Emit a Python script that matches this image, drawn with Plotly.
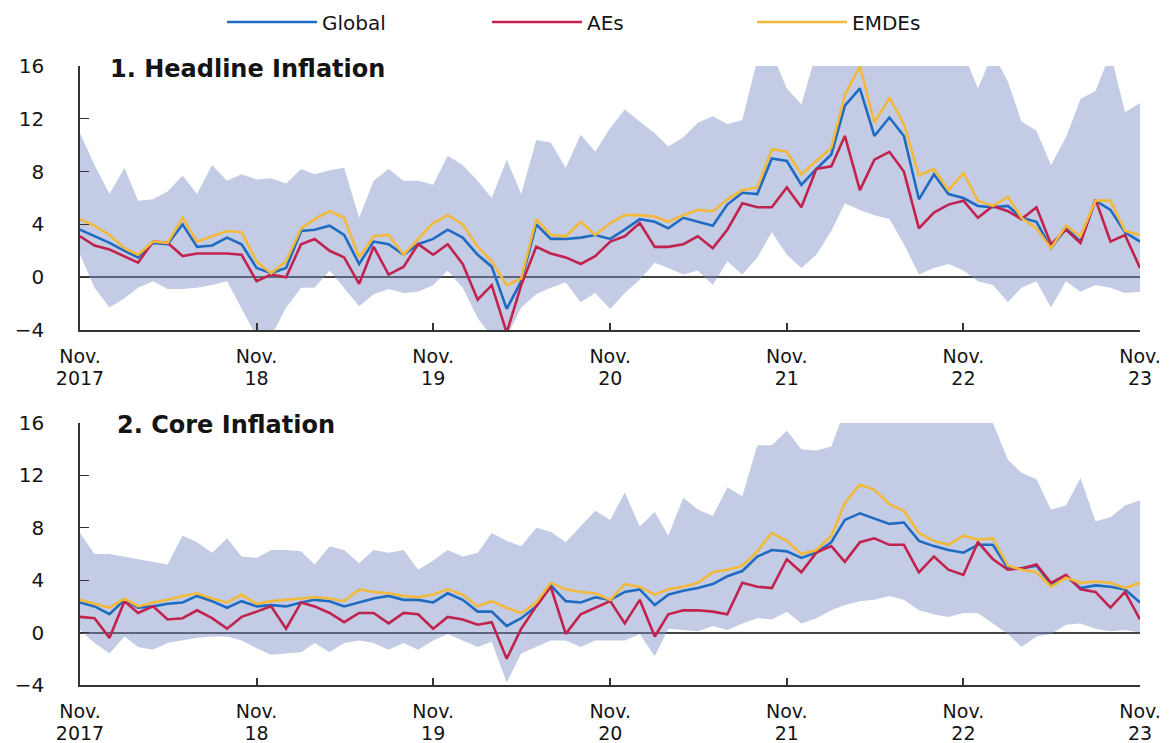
import pandas as pd
import plotly.graph_objects as go

months = pd.date_range("2017-11-01", periods=73, freq="MS")
tick_dates = ["2017-11-01", "2018-11-01", "2019-11-01", "2020-11-01",
              "2021-11-01", "2022-11-01", "2023-11-01"]
tick_month = "Nov."
tick_years = ["2017", "18", "19", "20", "21", "22", "23"]

# ---- Panel 1: Headline inflation ----
head_global = [3.6, 3.1, 2.6, 2.0, 1.5, 2.6, 2.5, 4.0, 2.3, 2.4, 3.0, 2.5, 0.7, 0.3, 0.7, 3.5, 3.6, 3.9, 3.2, 1.0, 2.7, 2.5, 1.7, 2.5, 2.9,
               3.6, 3.0, 1.7, 0.8, -2.4, -0.3, 4.0, 2.9, 2.9, 3.0, 3.2, 2.9, 3.6, 4.4, 4.2, 3.7, 4.5, 4.2, 3.9, 5.5, 6.4, 6.3, 9.0, 8.8,
               7.0, 8.2, 9.3, 13.0, 14.3, 10.7, 12.1, 10.7, 5.9, 7.8, 6.3, 6.0, 5.4, 5.3, 5.4, 4.5, 4.2, 2.2, 3.7, 2.7, 5.8, 5.1, 3.4, 2.7]
head_aes = [3.1, 2.4, 2.1, 1.6, 1.1, 2.7, 2.6, 1.6, 1.8, 1.8, 1.8, 1.7, -0.3, 0.2, 0.0, 2.5, 2.9, 2.0, 1.5, -0.5, 2.3, 0.2, 0.8, 2.5, 1.7,
            2.5, 1.0, -1.7, -0.6, -4.2, -0.6, 2.3, 1.8, 1.5, 1.0, 1.6, 2.7, 3.1, 4.1, 2.3, 2.3, 2.5, 3.1, 2.2, 3.6, 5.6, 5.3, 5.3, 6.8,
            5.3, 8.2, 8.4, 10.7, 6.6, 8.9, 9.5, 8.0, 3.7, 4.9, 5.5, 5.8, 4.5, 5.4, 5.0, 4.4, 5.3, 2.5, 3.6, 2.6, 5.9, 2.7, 3.2, 0.7]
head_emdes = [4.4, 3.9, 3.2, 2.2, 1.7, 2.7, 2.6, 4.5, 2.7, 3.1, 3.5, 3.4, 1.2, 0.3, 1.2, 3.7, 4.4, 5.0, 4.5, 1.5, 3.1, 3.2, 1.7, 2.9, 4.1,
              4.7, 4.0, 2.3, 1.2, -0.6, -0.1, 4.4, 3.2, 3.1, 4.2, 3.2, 4.1, 4.7, 4.7, 4.6, 4.2, 4.7, 5.1, 5.0, 5.9, 6.6, 6.8, 9.7, 9.5,
              7.8, 8.8, 9.8, 13.8, 16.0, 11.7, 13.6, 11.6, 7.7, 8.2, 6.6, 7.9, 5.8, 5.4, 6.1, 4.5, 3.7, 2.2, 3.9, 3.1, 5.8, 5.8, 3.5, 3.2]
head_upper = [10.9, 8.5, 6.3, 8.3, 5.8, 5.9, 6.5, 7.7, 6.3, 8.5, 7.3, 7.8, 7.4, 7.5, 7.1, 8.2, 7.8, 8.1, 8.3, 4.5, 7.3, 8.2, 7.3, 7.3, 7.0,
              9.2, 8.5, 7.3, 6.0, 8.9, 6.3, 10.4, 10.2, 8.3, 10.8, 9.5, 11.3, 12.7, 11.8, 10.9, 9.9, 10.6, 11.7, 12.2, 11.6, 11.9, 16.5, 17.0, 14.3,
              13.1, 17.0, 17.0, 17.0, 17.0, 17.0, 17.0, 17.0, 17.0, 17.0, 17.0, 17.0, 14.3, 17.0, 14.8, 11.8, 11.1, 8.5, 10.6, 13.5, 14.1, 17.0, 12.5, 13.2]
head_lower = [1.7, -0.8, -2.3, -1.6, -0.8, -0.3, -0.9, -0.9, -0.8, -0.6, -0.3, -2.3, -4.5, -4.5, -2.3, -0.8, -0.8, 0.5, -0.8, -2.2, -1.3, -0.9, -1.2, -1.1, -0.6,
              0.5, -0.8, -3.1, -4.5, -4.5, -2.3, -1.3, -0.8, -0.4, -1.9, -1.2, -2.4, -1.2, -0.2, 1.1, 0.7, 0.2, 0.5, -0.6, 1.2, 0.2, 1.5, 3.4, 1.7,
              0.7, 1.7, 3.5, 5.6, 5.1, 4.7, 4.4, 2.5, 0.2, 0.7, 1.0, 0.5, -0.3, -0.6, -1.9, -0.8, -0.3, -2.3, -0.3, -1.1, -0.6, -0.8, -1.2, -1.1]

# ---- Panel 2: Core inflation ----
core_global = [2.3, 2.0, 1.4, 2.5, 1.9, 2.0, 2.2, 2.3, 2.8, 2.4, 1.9, 2.4, 2.0, 2.1, 2.0, 2.3, 2.5, 2.4, 2.0, 2.3, 2.6, 2.8, 2.5, 2.5, 2.3,
               3.0, 2.5, 1.6, 1.6, 0.5, 1.1, 2.0, 3.6, 2.4, 2.3, 2.7, 2.5, 3.1, 3.3, 2.1, 2.9, 3.2, 3.4, 3.7, 4.3, 4.7, 5.8, 6.3, 6.2,
               5.7, 6.1, 6.9, 8.6, 9.1, 8.7, 8.3, 8.4, 7.0, 6.6, 6.3, 6.1, 6.7, 6.7, 4.9, 4.9, 5.1, 3.7, 4.3, 3.4, 3.6, 3.5, 3.3, 2.3]
core_aes = [1.2, 1.1, -0.4, 2.4, 1.5, 2.0, 1.0, 1.1, 1.7, 1.1, 0.3, 1.2, 1.6, 2.0, 0.3, 2.3, 2.0, 1.5, 0.8, 1.5, 1.5, 0.7, 1.5, 1.4, 0.3,
            1.2, 1.0, 0.6, 0.8, -2.0, 0.3, 2.0, 3.5, -0.1, 1.4, 1.9, 2.4, 0.7, 2.5, -0.3, 1.4, 1.7, 1.7, 1.6, 1.4, 3.8, 3.5, 3.4, 5.6,
            4.6, 6.1, 6.6, 5.4, 6.9, 7.2, 6.7, 6.7, 4.6, 5.8, 4.8, 4.4, 6.9, 5.6, 4.8, 4.9, 5.2, 3.8, 4.4, 3.3, 3.1, 1.9, 3.1, 1.0]
core_emdes = [2.5, 2.2, 1.9, 2.6, 2.0, 2.3, 2.5, 2.8, 3.0, 2.6, 2.3, 2.9, 2.2, 2.4, 2.5, 2.6, 2.7, 2.6, 2.4, 3.3, 3.1, 3.0, 2.8, 2.7, 2.9,
              3.3, 2.9, 2.0, 2.4, 1.9, 1.5, 2.3, 3.8, 3.3, 3.1, 3.0, 2.5, 3.7, 3.5, 2.9, 3.3, 3.5, 3.8, 4.6, 4.8, 5.1, 6.2, 7.6, 7.0,
              6.0, 6.3, 7.4, 9.9, 11.3, 10.9, 9.8, 9.3, 7.6, 7.0, 6.7, 7.4, 7.1, 7.2, 5.1, 4.8, 4.6, 3.5, 4.2, 3.8, 3.9, 3.8, 3.4, 3.8]
core_upper = [7.6, 6.0, 6.0, 5.8, 5.6, 5.4, 5.2, 7.4, 6.9, 6.1, 7.2, 5.8, 5.7, 6.3, 6.3, 6.2, 5.2, 6.6, 6.3, 5.3, 6.3, 6.1, 6.3, 4.8, 5.5,
              6.3, 5.8, 6.1, 7.6, 7.0, 6.6, 8.0, 7.7, 6.9, 8.1, 9.3, 8.6, 10.7, 8.1, 9.2, 7.4, 10.3, 9.4, 8.9, 11.1, 10.4, 14.3, 14.3, 15.4,
              14.0, 13.9, 14.2, 17.0, 17.0, 17.0, 17.0, 17.0, 17.0, 17.0, 17.0, 17.0, 17.0, 16.0, 13.2, 12.2, 11.7, 9.4, 9.7, 11.8, 8.5, 8.8, 9.7, 10.1]
core_lower = [0.2, -0.8, -1.6, -0.3, -1.1, -1.3, -0.8, -0.6, -0.4, -0.3, -0.3, -0.6, -1.2, -1.7, -1.6, -1.5, -0.8, -1.5, -0.8, -0.6, -0.8, -1.3, -0.8, -1.3, -0.6,
              -0.1, -0.6, -1.1, -0.7, -3.8, -1.6, -1.1, -0.6, -0.6, -1.1, -0.6, -0.6, -0.6, -0.1, -1.8, 0.3, 0.2, 0.1, 0.5, 0.2, 0.7, 1.1, 1.0, 1.6,
              0.7, 1.1, 1.7, 2.1, 2.4, 2.5, 2.8, 2.5, 1.7, 1.4, 1.2, 1.5, 1.5, 0.7, -0.1, -1.1, -0.3, -0.1, 0.6, 0.7, 0.3, 0.1, 0.2, 0.0]

series_names = ["Global", "AEs", "EMDEs"]
series_colors = ["#1f6bc1", "#c1234e", "#f2b93b"]
band_color = "rgba(122,142,195,0.45)"
FONT = "DejaVu Sans"
TXT = "#141414"

tick_text = ['<span style="font-size:19px">%s</span><br><span style="font-size:19px">%s</span>'
             % (tick_month, y) for y in tick_years]

fig = go.Figure()

panels = [
    ("x", "y", head_lower, head_upper, [head_global, head_aes, head_emdes]),
    ("x2", "y2", core_lower, core_upper, [core_global, core_aes, core_emdes]),
]
for p, (xa, ya, lo, up, lines) in enumerate(panels):
    fig.add_trace(go.Scatter(x=months, y=lo, xaxis=xa, yaxis=ya, mode="lines",
                             line=dict(width=0, color=band_color), showlegend=False,
                             hoverinfo="skip"))
    fig.add_trace(go.Scatter(x=months, y=up, xaxis=xa, yaxis=ya, mode="lines",
                             line=dict(width=0, color=band_color), fill="tonexty",
                             fillcolor=band_color, showlegend=False, hoverinfo="skip"))
    for name, vals, col in zip(series_names, lines, series_colors):
        fig.add_trace(go.Scatter(x=months, y=vals, xaxis=xa, yaxis=ya, mode="lines",
                                 name=name, line=dict(color=col, width=2.6),
                                 showlegend=(p == 0)))

axis_common = dict(showline=True, linecolor="#333333", linewidth=1.5,
                   showgrid=False, ticks="inside", tickcolor="#333333",
                   automargin=False)

xcommon = dict(axis_common, type="date", range=["2017-11-01", "2023-11-01"],
               tickvals=tick_dates, ticktext=tick_text, ticklen=7, tickwidth=1.5,
               zeroline=False, ticklabelstandoff=11,
               tickfont=dict(family=FONT, size=17, color=TXT))
ycommon = dict(axis_common, range=[-4, 16], tickvals=[-4, 0, 4, 8, 12, 16],
               ticktext=["\u22124", "0", "4", "8", "12", "16"], ticklen=9,
               tickwidth=1.2, zeroline=True, zerolinecolor="#444444",
               zerolinewidth=1.6, ticklabelstandoff=30,
               tickfont=dict(family=FONT, size=20, color=TXT))

fig.update_layout(
    width=1175, height=743,
    margin=dict(l=80, r=35, t=66, b=58, autoexpand=False),
    paper_bgcolor="white", plot_bgcolor="white",
    font=dict(family=FONT, size=20, color=TXT),
    xaxis=dict(xcommon, domain=[0, 1], anchor="y"),
    yaxis=dict(ycommon, domain=[0.5735, 1], anchor="x"),
    xaxis2=dict(xcommon, domain=[0, 1], anchor="y2"),
    yaxis2=dict(ycommon, domain=[0, 0.4233], anchor="x2"),
    legend=dict(orientation="h", x=0.134, xanchor="left", y=1.071, yanchor="middle",
                font=dict(family=FONT, size=20, color=TXT),
                itemwidth=90, entrywidth=160, entrywidthmode="pixels",
                traceorder="normal", bgcolor="rgba(0,0,0,0)"),
    showlegend=True,
    annotations=[
        dict(text="<b>1. Headline Inflation</b>", xref="x domain", yref="y domain",
             x=0.026, y=0.987, xanchor="left", yanchor="middle", showarrow=False,
             font=dict(family=FONT, size=24, color=TXT)),
        dict(text="<b>2. Core Inflation</b>", xref="x2 domain", yref="y2 domain",
             x=0.033, y=0.992, xanchor="left", yanchor="middle", showarrow=False,
             font=dict(family=FONT, size=24, color=TXT)),
    ],
)

fig.write_html("out.html",
               config={"displayModeBar": False},
               post_script="document.body.style.margin='0';document.body.style.overflow='hidden';")
